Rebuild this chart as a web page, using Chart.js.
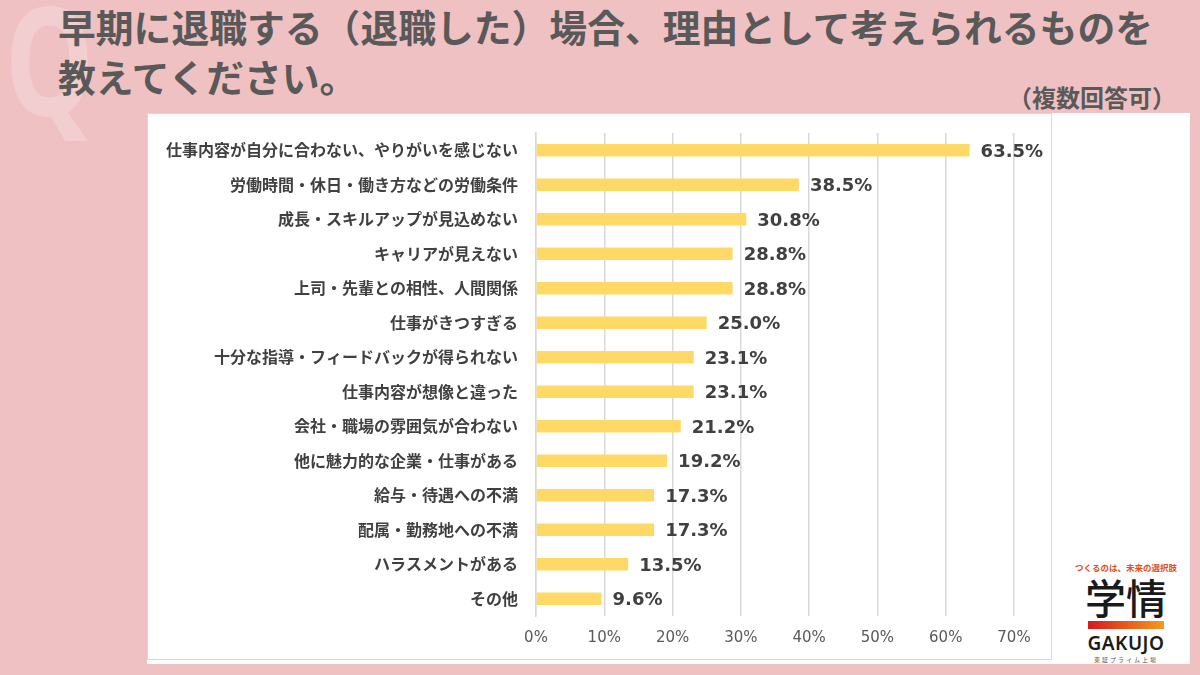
<!DOCTYPE html>
<html lang="ja">
<head>
<meta charset="utf-8">
<script src="https://cdn.jsdelivr.net/npm/chart.js@4.4.1/dist/chart.umd.min.js"></script>
<style>
  body { margin: 0; width: 1200px; height: 675px; background: #f0c1c3; overflow: hidden; position: relative;
         font-family: "Noto Sans CJK JP", "Noto Sans", sans-serif; }
  .q { position: absolute; left: 5px; top: -45px; font-size: 150px; font-weight: bold; color: rgba(255,255,255,0.22);
       font-family: "Noto Sans", sans-serif; transform: scaleX(0.75); transform-origin: left top; }
  .title { position: absolute; left: 58px; top: 1px; font-size: 37.8px; font-weight: bold; color: #595959; line-height: 50px; }
  .note { position: absolute; right: 24px; top: 79px; font-size: 24px; font-weight: bold; color: #595959; }
  .white { position: absolute; left: 147px; top: 113px; width: 1043px; height: 551px; background: #fff; }
  .panel { position: absolute; left: 147px; top: 113px; width: 903px; height: 545px; border: 1px solid #d9d9d9; background: #fff; }
  .panel canvas { display: block; }
  .logo { position: absolute; left: 1062px; top: 561px; width: 128px; text-align: center; }
  .logo .tag { font-size: 8.5px; color: #e0501e; font-weight: bold; }
  .logo .kan { font-size: 41px; line-height: 40px; color: #1a1a1a; font-weight: 500; margin-top: 3px; }
  .logo .bar { width: 76px; height: 8px; margin: 5px auto 0; background: linear-gradient(90deg, #d71920, #f39a1e); }
  .logo .en { font-size: 19px; font-weight: 600; color: #1a1a1a; font-family: "Noto Sans", sans-serif; line-height: 24px; margin-top: 2px; letter-spacing: 0.5px; }
  .logo .sub { font-size: 6px; color: #555; letter-spacing: 2px; }
</style>
</head>
<body>
<div class="q">Q</div>
<div class="title">早期に退職する（退職した）場合、理由として考えられるものを<br>教えてください。</div>
<div class="note">（複数回答可）</div>
<div class="white"></div>
<div class="panel"><canvas id="chart" width="903" height="545"></canvas></div>
<div class="logo">
  <div class="tag">つくるのは、未来の選択肢</div>
  <div class="kan">学情</div>
  <div class="bar"></div>
  <div class="en">GAKUJO</div>
  <div class="sub">東証プライム上場</div>
</div>
<script>
// 項目と回答率（%）
const categories = [
  '仕事内容が自分に合わない、やりがいを感じない',
  '労働時間・休日・働き方などの労働条件',
  '成長・スキルアップが見込めない',
  'キャリアが見えない',
  '上司・先輩との相性、人間関係',
  '仕事がきつすぎる',
  '十分な指導・フィードバックが得られない',
  '仕事内容が想像と違った',
  '会社・職場の雰囲気が合わない',
  '他に魅力的な企業・仕事がある',
  '給与・待遇への不満',
  '配属・勤務地への不満',
  'ハラスメントがある',
  'その他'
];
const values = [63.5, 38.5, 30.8, 28.8, 28.8, 25.0, 23.1, 23.1, 21.2, 19.2, 17.3, 17.3, 13.5, 9.6];
const xTicks = [0, 10, 20, 30, 40, 50, 60, 70];

const fontJP = '"Noto Sans CJK JP", "Noto Sans", sans-serif';

// バーの右に数値を描く
const valueLabels = {
  id: 'valueLabels',
  afterDatasetsDraw(chart) {
    const ctx = chart.ctx;
    const meta = chart.getDatasetMeta(0);
    ctx.save();
    ctx.font = 'bold 18px "DejaVu Sans", sans-serif';
    ctx.fillStyle = '#404040';
    ctx.textAlign = 'left';
    ctx.textBaseline = 'middle';
    meta.data.forEach((bar, i) => {
      ctx.fillText(values[i].toFixed(1) + '%', bar.x + 11, bar.y + 2);
    });
    ctx.restore();
  }
};

new Chart(document.getElementById('chart'), {
  type: 'bar',
  data: {
    labels: categories,
    datasets: [{
      data: values,
      backgroundColor: '#ffd966',
      categoryPercentage: 1,
      barPercentage: 0.36
    }]
  },
  options: {
    indexAxis: 'y',
    responsive: false,
    animation: false,
    layout: { padding: { top: 19, right: 37, bottom: 0, left: 0 } },
    plugins: { legend: { display: false }, tooltip: { enabled: false } },
    scales: {
      x: {
        min: 0,
        max: 70,
        afterBuildTicks(axis) { axis.ticks = xTicks.map(v => ({ value: v })); },
        ticks: {
          callback: v => v + '%',
          color: '#595959',
          font: { family: '"DejaVu Sans", sans-serif', size: 15 },
          padding: 13
        },
        grid: { color: '#d9d9d9', lineWidth: 1.5, drawTicks: false },
        border: { display: false },
        afterFit(axis) { axis.height = 43; }
      },
      y: {
        ticks: {
          color: '#404040',
          font: { family: fontJP, size: 16, weight: 'bold' },
          padding: 0
        },
        grid: { color: 'rgba(0,0,0,0)', drawOnChartArea: false, drawTicks: true, tickLength: 18 },
        border: { color: '#d9d9d9', width: 1.5 },
        afterFit(axis) { axis.width = 388; }
      }
    }
  },
  plugins: [valueLabels]
});
</script>
</body>
</html>
